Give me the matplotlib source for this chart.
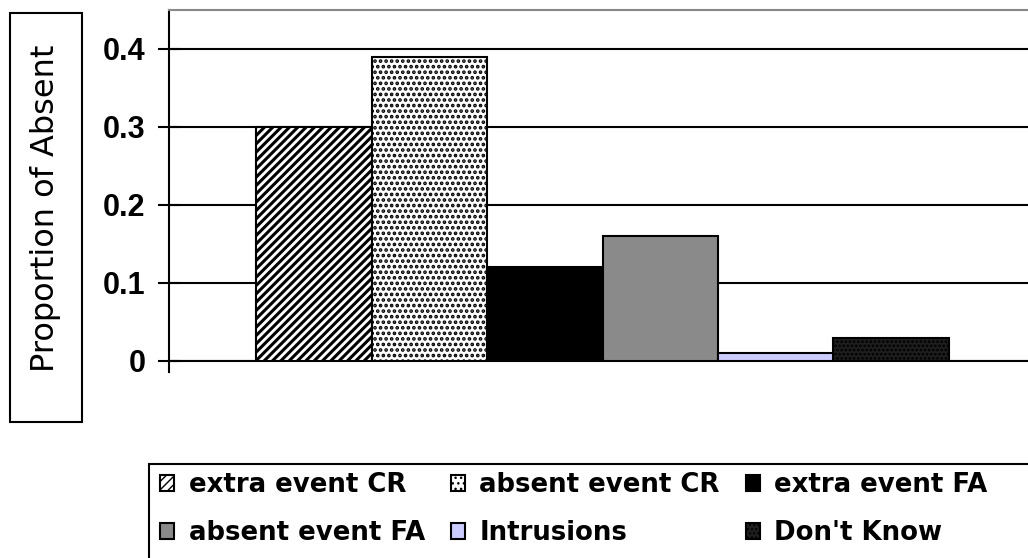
import matplotlib
matplotlib.use("Agg")
import matplotlib.pyplot as plt
from matplotlib.patches import Rectangle
import numpy as np

# data
categories = ["extra event CR", "absent event CR", "extra event FA",
              "absent event FA", "Intrusions", "Don't Know"]
values = [0.30, 0.39, 0.12, 0.16, 0.01, 0.03]
yticks = [0, 0.1, 0.2, 0.3, 0.4]
ytick_labels = ["0", "0.1", "0.2", "0.3", "0.4"]

# look of each series (face, hatch, hatch colour, hatch width)
styles = [
    ("white", "////", "black", 2.2),
    ("white", "...", "black", 1.8),
    ("black", None, "black", 1.0),
    ("#8a8a8a", None, "black", 1.0),
    ("#ccccff", None, "black", 1.0),
    ("#1e1e1e", "....", "white", 1.3),
]

W, H = 1028, 558
fig = plt.figure(figsize=(W / 100, H / 100), dpi=100)
ax = fig.add_axes([169 / W, (H - 361) / H, (1040 - 169) / W, 351 / H])

x = np.arange(len(values))
bars = []
for xi, v, lab, (fc, hatch, hc, hlw) in zip(x, values, categories, styles):
    with plt.rc_context({"hatch.linewidth": hlw, "hatch.color": hc}):
        kw = dict(width=1.0, align="edge", facecolor=fc, edgecolor="black",
                  linewidth=1.5, label=lab, zorder=3)
        if hatch:
            kw["hatch"] = hatch
        try:
            b = ax.bar(xi, v, hatchcolor=hc, **kw)
        except (AttributeError, TypeError):
            b = ax.bar(xi, v, **kw)
    bars.append(b)

ax.set_xlim(-(256 - 169) / 115.5, (1040 - 256) / 115.5)
ax.set_ylim(0, 0.45)
ax.set_xticks([])
ax.set_yticks(yticks)
ax.set_yticklabels(ytick_labels, fontsize=22, fontweight="bold",
                   family="Liberation Sans")
ax.tick_params(axis="y", direction="inout", length=16, width=1.5, pad=9,
               color="black")
ax.yaxis.grid(True, color="black", linewidth=1.5)
ax.set_axisbelow(True)

for side in ["left", "bottom"]:
    ax.spines[side].set_linewidth(1.5)
    ax.spines[side].set_color("black")
ax.spines["left"].set_bounds(-0.0141, 0.45)
ax.spines["top"].set_color("#888888")
ax.spines["top"].set_linewidth(1.5)
ax.spines["right"].set_visible(False)

# y label in its own box
fig.add_artist(Rectangle((10 / W, (H - 422) / H), 72 / W, 409 / H,
                         transform=fig.transFigure, fill=False,
                         edgecolor="black", linewidth=1.5))
fig.text(46 / W, 1 - 208 / H, "Proportion of Absent", rotation=90,
         ha="center", va="center", fontsize=23, family="DejaVu Sans")

# legend, row-major order like the original
order = [0, 3, 1, 4, 2, 5]
handles = [bars[i] for i in order]
labels = [categories[i] for i in order]
fig.legend(handles, labels, ncol=3, loc="upper left",
           bbox_to_anchor=(160 / W, 1 - 472 / H), frameon=False,
           prop={"family": "DejaVu Sans", "weight": "bold", "size": 18.7},
           handlelength=0.55, handleheight=0.55, handletextpad=0.55,
           columnspacing=1.0, labelspacing=0.86, borderpad=0,
           borderaxespad=0)
fig.add_artist(Rectangle((149 / W, -0.05), (1060 - 149) / W,
                         (H - 464) / H + 0.05, transform=fig.transFigure,
                         fill=False, edgecolor="black", linewidth=1.5))

fig.savefig("out.png", dpi=100)
